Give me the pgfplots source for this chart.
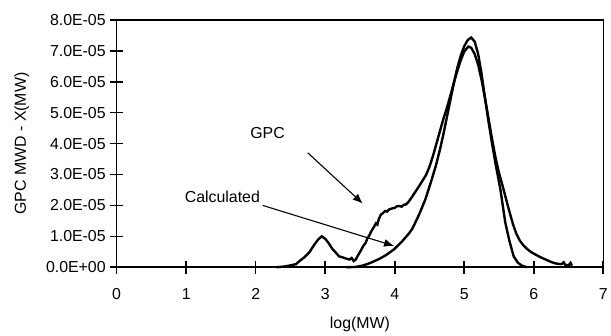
\documentclass[border=0pt]{standalone}
\usepackage{pgfplots}
\pgfplotsset{compat=1.18}
\usepackage{fontspec}
\setmainfont{Liberation Sans}
\usetikzlibrary{arrows.meta}
\begin{document}
\begin{tikzpicture}[x=1bp,y=1bp]
\begin{axis}[
  name=ax,
  scale only axis,
  width=488bp, height=248bp,
  xmin=0, xmax=7, ymin=0, ymax=8,
  xtick={0,1,2,3,4,5,6,7},
  ytick={0,1,2,3,4,5,6,7,8},
  xtick pos=bottom, ytick pos=left,
  yticklabels={0.0E+00,1.0E-05,2.0E-05,3.0E-05,4.0E-05,5.0E-05,6.0E-05,7.0E-05,8.0E-05},
  xticklabels={0,1,2,3,4,5,6,7},
  /pgf/number format/assume math mode=true,
  tick align=center,
  major tick length=13bp,
  major tick style={line width=1.6pt,black},
  axis line style={line width=1.5pt},
  ticklabel style={font=\fontsize{16}{18}\selectfont},
  yticklabel style={xshift=-1bp},
  xticklabel style={yshift=-11bp},
  xlabel={log(MW)},
  ylabel={GPC MWD - X(MW)},
  label style={font=\fontsize{16}{18}\selectfont},
  xlabel style={yshift=-11bp},
  ylabel style={yshift=10bp},
  clip=false,
]
\addplot[line width=2.4pt, black] table {
2.30 0.00
2.40 0.02
2.50 0.06
2.58 0.10
2.63 0.20
2.70 0.32
2.77 0.48
2.85 0.75
2.90 0.90
2.95 1.00
3.00 0.92
3.05 0.78
3.10 0.60
3.15 0.48
3.20 0.35
3.25 0.32
3.30 0.28
3.35 0.25
3.38 0.30
3.41 0.20
3.44 0.25
3.47 0.38
3.51 0.53
3.55 0.70
3.58 0.78
3.61 0.95
3.63 1.01
3.66 1.15
3.70 1.30
3.73 1.42
3.75 1.38
3.77 1.55
3.80 1.70
3.83 1.75
3.86 1.82
3.89 1.80
3.92 1.87
3.96 1.90
4.00 1.92
4.03 1.97
4.06 1.98
4.10 1.96
4.13 2.02
4.16 2.03
4.20 2.12
4.25 2.28
4.30 2.45
4.35 2.62
4.40 2.80
4.45 2.98
4.50 3.25
4.55 3.60
4.60 4.00
4.65 4.40
4.70 4.80
4.75 5.15
4.80 5.55
4.88 6.20
4.95 6.70
5.00 6.98
5.06 7.14
5.10 7.10
5.15 6.90
5.20 6.55
5.25 6.05
5.30 5.45
5.35 4.80
5.40 4.15
5.45 3.55
5.50 3.05
5.55 2.65
5.60 2.22
5.65 1.80
5.70 1.40
5.75 1.08
5.80 0.86
5.85 0.71
5.90 0.60
5.95 0.51
6.00 0.44
6.05 0.38
6.10 0.32
6.15 0.27
6.20 0.22
6.25 0.17
6.30 0.13
6.35 0.11
6.40 0.10
6.43 0.16
6.45 0.08
6.50 0.06
6.53 0.14
6.55 0.05
};
\addplot[line width=2.4pt, black] table {
3.30 0.00
3.44 0.01
3.55 0.06
3.65 0.14
3.77 0.26
3.88 0.40
3.99 0.58
4.10 0.82
4.20 1.08
4.25 1.23
4.35 1.70
4.44 2.19
4.52 2.75
4.59 3.27
4.65 3.80
4.70 4.30
4.75 4.85
4.80 5.40
4.85 5.95
4.90 6.45
4.95 6.85
5.00 7.15
5.05 7.35
5.10 7.43
5.15 7.30
5.20 6.90
5.25 6.25
5.30 5.45
5.35 4.70
5.40 4.00
5.45 3.35
5.52 2.52
5.59 1.45
5.65 0.85
5.71 0.36
5.77 0.15
5.83 0.05
5.90 0.00
};
\node[font=\fontsize{16}{18}\selectfont] at (axis cs:2.17,4.35) {GPC};
\node[font=\fontsize{16}{18}\selectfont] at (axis cs:1.52,2.29) {Calculated};
\draw[line width=1.1pt,-{Latex[length=10bp,width=8bp]}] (axis cs:2.75,3.70) -- (axis cs:3.54,2.06);
\draw[line width=1.1pt,-{Latex[length=10bp,width=8bp]}] (axis cs:2.10,2.00) -- (axis cs:3.99,0.69);
\end{axis}
\path ([shift={(-117bp,-64bp)}]ax.south west) rectangle ([shift={(6bp,20bp)}]ax.north east);
\end{tikzpicture}
\end{document}
